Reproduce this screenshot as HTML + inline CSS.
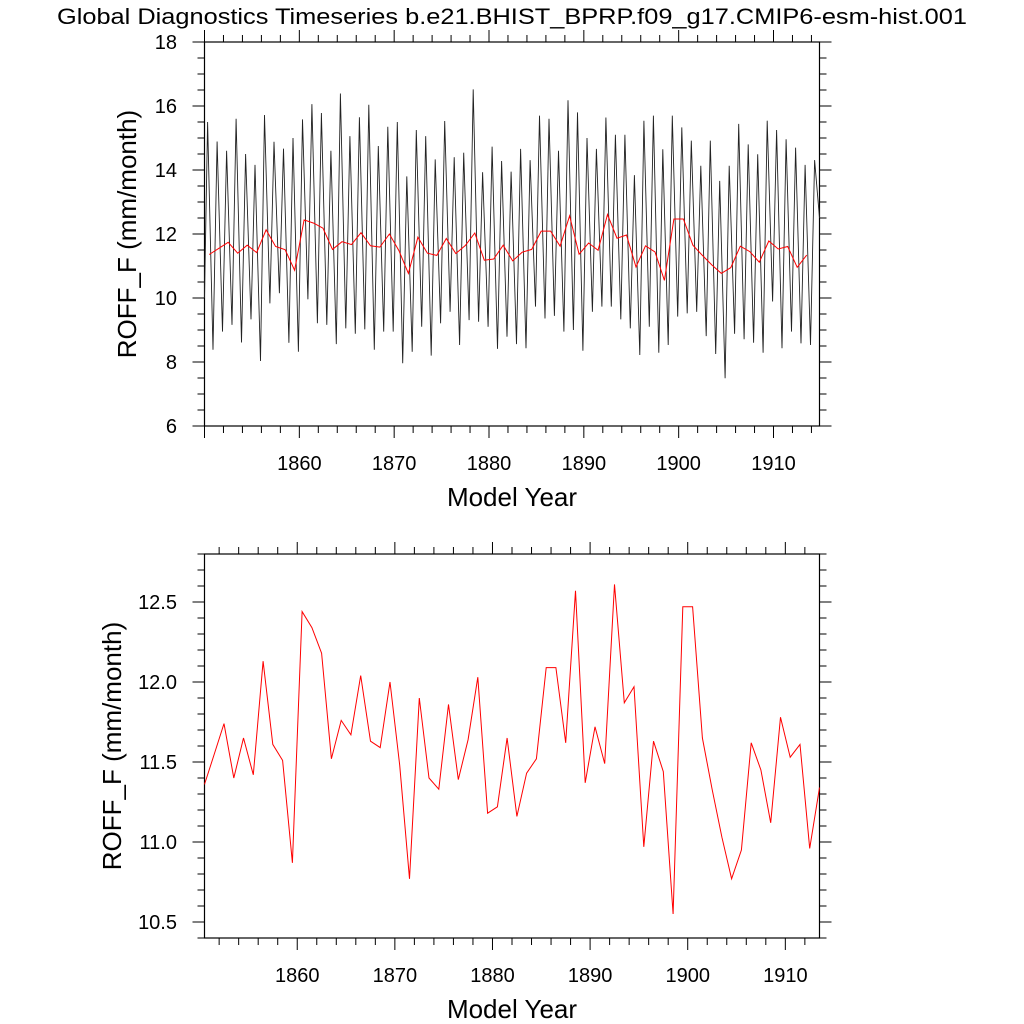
<!DOCTYPE html>
<html><head><meta charset="utf-8"><style>
html,body{margin:0;padding:0;background:#fff;}
svg{display:block;font-family:"Liberation Sans",sans-serif;}
</style></head><body>
<svg id="fig" width="1024" height="1024" viewBox="0 0 1024 1024" xmlns="http://www.w3.org/2000/svg">
<rect width="1024" height="1024" fill="#fff"/>
<text x="512" y="24" font-size="22" text-anchor="middle" textLength="910" lengthAdjust="spacingAndGlyphs">Global Diagnostics Timeseries b.e21.BHIST_BPRP.f09_g17.CMIP6-esm-hist.001</text>
<g id="topPanel"></g>
<g id="botPanel"></g>
</svg>
<script>
// annual mean values 1850..1913 (plotted at year+0.5)
const annualValues=[11.36,11.55,11.74,11.40,11.65,11.42,12.13,11.61,11.51,10.87,12.44,12.34,12.18,11.52,11.76,11.67,12.04,11.63,11.59,12.00,11.48,10.77,11.90,11.40,11.33,11.86,11.39,11.64,12.03,11.18,11.22,11.65,11.16,11.43,11.52,12.09,12.09,11.62,12.57,11.37,11.72,11.49,12.61,11.87,11.97,10.97,11.63,11.44,10.55,12.47,12.47,11.65,11.33,11.03,10.77,10.95,11.62,11.45,11.12,11.78,11.53,11.61,10.96,11.34];
// monthly series: yearly peaks (year+0.33) 1850..1914
const monthlyPeaks=[15.5,14.89,14.6,15.6,14.5,14.16,15.72,14.88,14.67,15.0,15.58,16.06,15.78,14.6,16.39,15.06,15.65,16.04,14.75,15.35,15.5,13.8,15.25,15.06,14.33,15.53,14.4,14.54,16.52,13.93,14.73,14.28,13.95,14.66,14.31,15.7,15.6,14.6,16.18,15.8,15.0,14.66,15.64,15.1,15.1,13.84,15.54,15.7,14.65,15.7,15.33,14.92,14.13,14.92,13.66,14.13,15.44,14.8,14.49,15.54,15.25,14.96,14.7,14.16,14.31];
// yearly troughs (year+0.9) 1850..1913
const monthlyTroughs=[8.38,8.95,9.16,8.61,9.33,8.03,9.83,10.15,8.6,8.32,9.96,9.21,9.16,8.56,9.05,8.88,9.02,8.38,8.95,8.95,7.96,8.32,9.1,8.2,9.21,9.57,8.53,9.31,9.26,9.1,8.41,8.79,8.56,8.43,9.73,9.36,9.44,8.95,9.0,8.35,9.57,9.73,9.73,9.33,9.05,8.22,9.1,8.29,8.53,9.42,9.52,9.57,8.81,8.25,7.49,8.88,8.71,8.6,8.29,9.89,8.43,8.95,8.58,8.53];
const monthlyStart=10.0, monthlyEnd=12.5;
const topYTicks=[6,8,10,12,14,16,18];
const botYTicks=[10.5,11.0,11.5,12.0,12.5];
const xTicks=[1860,1870,1880,1890,1900,1910];

const NS="http://www.w3.org/2000/svg";
function mk(parent,tag,attrs){const e=document.createElementNS(NS,tag);for(const k in attrs)e.setAttribute(k,attrs[k]);parent.appendChild(e);return e;}

function panel(g,cfg){
  const L=204.5,R=819.5,T=cfg.top,B=cfg.bottom;
  const sx=v=>L+(v-cfg.x0)/(cfg.x1-cfg.x0)*(R-L);
  const sy=v=>B-(v-cfg.y0)/(cfg.y1-cfg.y0)*(B-T);
  for(let y=1850;y<=1916;y+=2){const x=sx(y);if(x<L-0.1||x>R+0.1)continue;
    const big=(y%10===0);const len=big?12:7;
    const t1=mk(g,'line',{x1:x,x2:x,y1:B,y2:B+len,stroke:'#000','stroke-width':1});
    
    
    const t2=mk(g,'line',{x1:x,x2:x,y1:T,y2:T-len,stroke:'#000','stroke-width':1});
    
    
  }
  xTicks.forEach(v=>{const t=mk(g,'text',{x:sx(v),y:B+44,'font-size':20,'text-anchor':'middle'});t.textContent=v;
    
    });
  const nMinor=Math.round((cfg.y1-cfg.y0)/cfg.minor);
  for(let i=0;i<=nMinor;i++){const v=cfg.y0+i*cfg.minor;const y=sy(v);
    const big=cfg.ticks.some(t=>Math.abs(t-v)<1e-6);const len=big?12:7;
    const a=mk(g,'line',{x1:L,x2:L-len,y1:y,y2:y,stroke:'#000','stroke-width':1});
    
    
    const b=mk(g,'line',{x1:R,x2:R+len,y1:y,y2:y,stroke:'#000','stroke-width':1});
    
    
  }
  cfg.ticks.forEach(v=>{const t=mk(g,'text',{x:177,y:sy(v)+7,'font-size':20,'text-anchor':'end'});t.textContent=cfg.fmt(v);
    
    });
  const fr=mk(g,'rect',{x:L,y:T,width:R-L,height:B-T,fill:'none',stroke:'#000','stroke-width':1.2});
  
  
  const xt=mk(g,'text',{x:(L+R)/2,y:B+80,'font-size':26,'text-anchor':'middle'});xt.textContent='Model Year';
  
  
  const cy=(T+B)/2;
  const yt=mk(g,'text',{x:cfg.ytx,y:cy,'font-size':26,'text-anchor':'middle',transform:`rotate(-90 ${cfg.ytx} ${cy})`});yt.textContent='ROFF_F (mm/month)';
  
  
  return {sx,sy};
}

const topG=document.getElementById('topPanel');
const A=panel(topG,{top:42,bottom:426,x0:1850,x1:1914.85,y0:6,y1:18,minor:0.5,ticks:topYTicks,fmt:v=>String(v),ytx:136});
let pts=[[1850,monthlyStart]];
for(let i=0;i<monthlyPeaks.length;i++){pts.push([1850+i+0.33,monthlyPeaks[i]]);if(i<monthlyTroughs.length)pts.push([1850+i+0.9,monthlyTroughs[i]]);}
pts.push([1914.85,monthlyEnd]);
const ml=mk(topG,'polyline',{points:pts.map(p=>A.sx(p[0]).toFixed(1)+','+A.sy(p[1]).toFixed(1)).join(' '),fill:'none',stroke:'#222','stroke-width':0.9});


const ra=mk(topG,'polyline',{points:annualValues.map((v,i)=>A.sx(1850.5+i).toFixed(1)+','+A.sy(v).toFixed(1)).join(' '),fill:'none',stroke:'#f00','stroke-width':1});



const botG=document.getElementById('botPanel');
const Bp=panel(botG,{top:554,bottom:938,x0:1850.5,x1:1913.5,y0:10.4,y1:12.8,minor:0.1,ticks:botYTicks,fmt:v=>v.toFixed(1),ytx:121});
const rb=mk(botG,'polyline',{points:annualValues.map((v,i)=>Bp.sx(1850.5+i).toFixed(1)+','+Bp.sy(v).toFixed(1)).join(' '),fill:'none',stroke:'#f00','stroke-width':1});


</script>
</body></html>
